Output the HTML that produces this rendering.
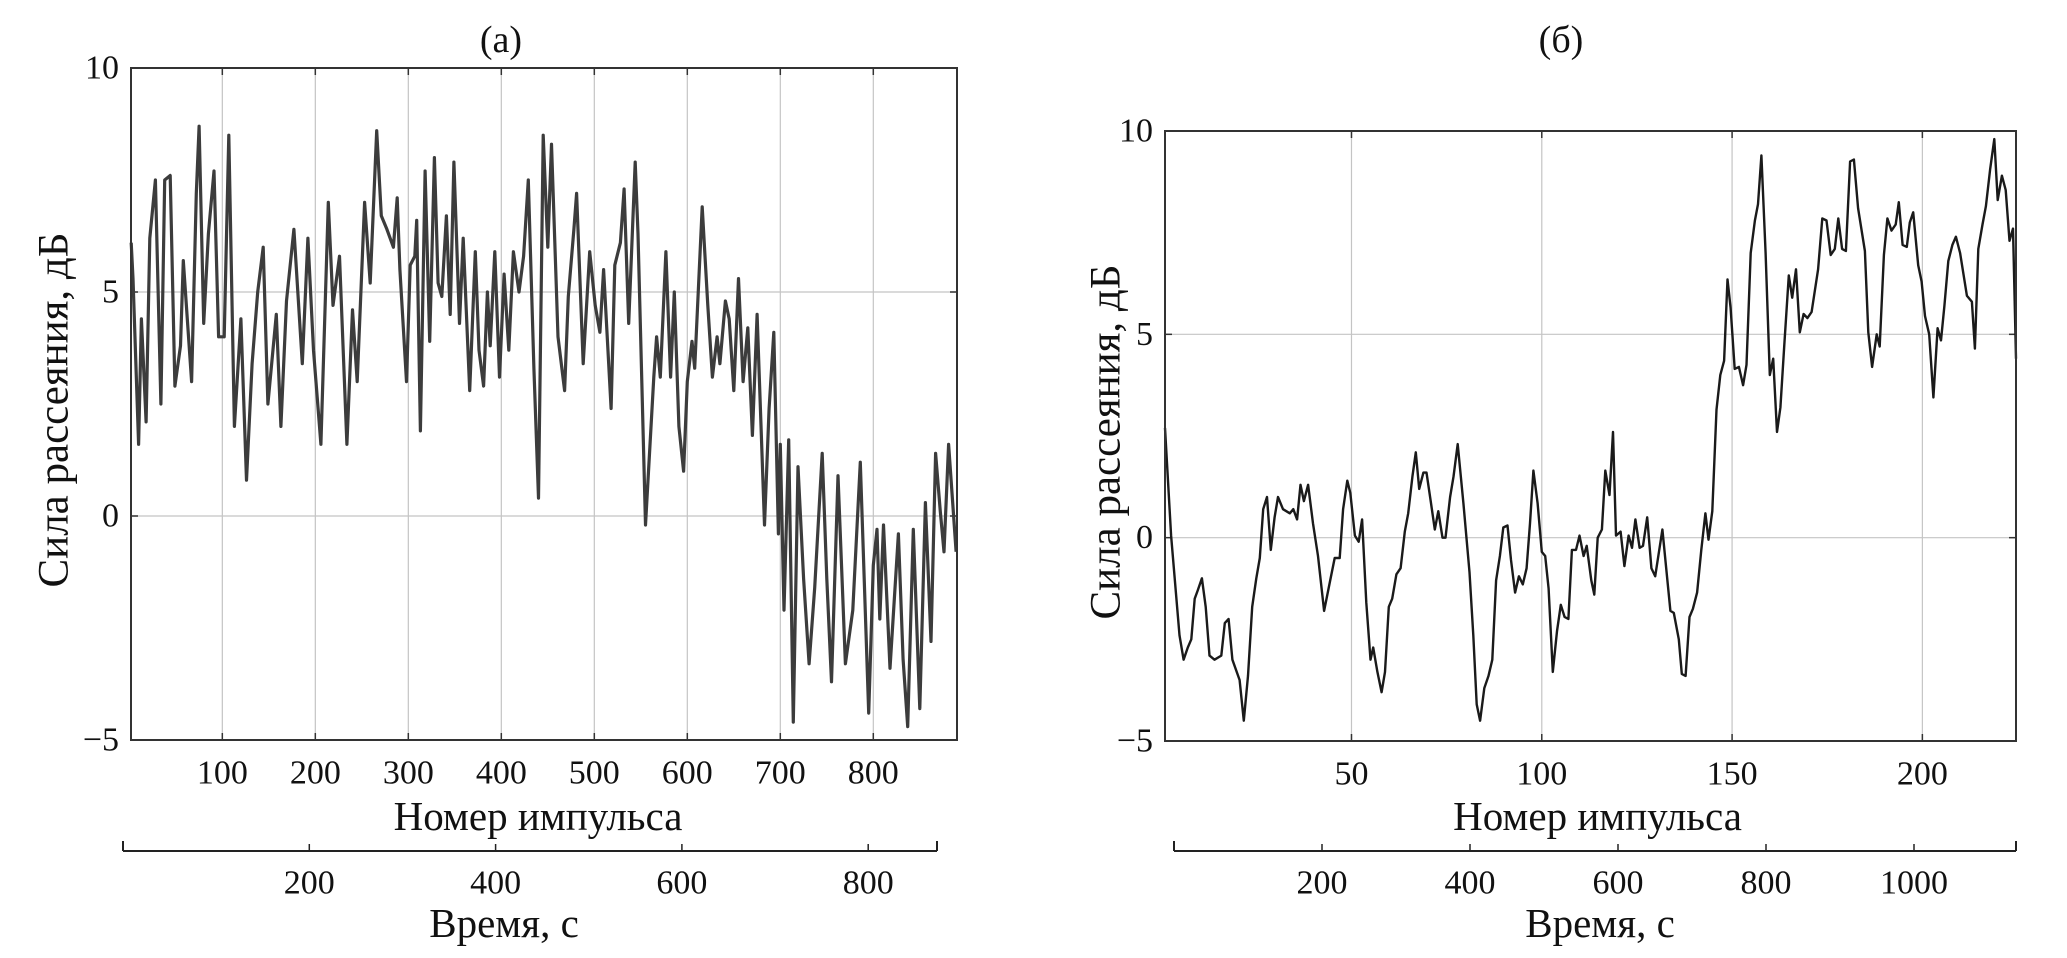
<!DOCTYPE html>
<html><head><meta charset="utf-8">
<style>
html,body{margin:0;padding:0;background:#fff;}
svg{display:block;}
text{font-family:"Liberation Serif",serif;fill:#111;}
</style></head>
<body>
<svg id="fig" width="2067" height="958" viewBox="0 0 2067 958"></svg>
<script>
// ---- Chart (a) data ----
const aPulse = [2,4,10,13,18,22,28,34,38,44,49,55,58,67,72,75,80,85,91,96,102,107,113,120,126,132,138,144,149,158,163,169,177,186,192,198,206,214,219,226,234,240,245,253,259,266,271,277,284,288,291,298,302,307,309,313,318,323,328,332,336,341,345,349,355,359,366,372,376,381,385,388,393,398,403,408,413,419,424,429,435,440,445,450,454,461,468,472,478,481,488,495,501,506,510,518,522,528,532,537,544,547,555,564,567,571,577,582,586,591,596,600,605,608,616,622,627,632,635,641,645,650,655,660,665,670,675,683,688,693,698,700,704,709,714,719,725,731,737,745,750,755,762,770,778,786,795,800,804,807,811,818,827,832,837,843,850,856,862,867,872,876,881,886,889];
const aValue = [6.1,5.3,1.6,4.4,2.1,6.2,7.5,2.5,7.5,7.6,2.9,3.8,5.7,3.0,7.2,8.7,4.3,6.3,7.7,4.0,4.0,8.5,2.0,4.4,0.8,3.4,5.0,6.0,2.5,4.5,2.0,4.8,6.4,3.4,6.2,3.7,1.6,7.0,4.7,5.8,1.6,4.6,3.0,7.0,5.2,8.6,6.7,6.4,6.0,7.1,5.5,3.0,5.6,5.8,6.6,1.9,7.7,3.9,8.0,5.2,4.9,6.7,4.5,7.9,4.3,6.2,2.8,5.9,3.7,2.9,5.0,3.8,5.9,3.1,5.4,3.7,5.9,5.0,5.8,7.5,3.3,0.4,8.5,6.0,8.3,4.0,2.8,4.9,6.4,7.2,3.4,5.9,4.7,4.1,5.5,2.4,5.6,6.1,7.3,4.3,7.9,6.3,-0.2,3.1,4.0,3.1,5.9,3.1,5.0,2.0,1.0,3.0,3.9,3.3,6.9,4.7,3.1,4.0,3.4,4.8,4.4,2.8,5.3,3.0,4.2,1.8,4.5,-0.2,2.4,4.1,-0.4,1.6,-2.1,1.7,-4.6,1.1,-1.4,-3.3,-1.6,1.4,-1.4,-3.7,0.9,-3.3,-2.1,1.2,-4.4,-1.1,-0.3,-2.3,-0.2,-3.4,-0.4,-3.2,-4.7,-0.3,-4.3,0.3,-2.8,1.4,0.1,-0.8,1.6,0.1,-0.8];
const aXTicks = [100,200,300,400,500,600,700,800];
const aYTicks = [-5,0,5,10];
const aTimeTicks = [200,400,600,800];

// ---- Chart (б) data ----
const bPulse = [1,2.6,4.8,5.9,7,7.9,8.8,9.6,10.7,11.7,12.7,14,15.8,16.7,17.7,18.7,20.6,21.7,22.8,23.9,25,25.9,26.8,27.8,28.8,29.8,30.7,32,33.8,34.7,35.7,36.6,37.5,38.6,39.9,41.2,42.8,44.3,45.6,46.9,47.8,48.9,49.7,50.9,51.9,52.8,53.9,55,55.7,56.8,57.9,58.8,59.8,60.7,61.8,62.9,64,64.9,66,66.9,67.8,68.9,69.7,70.8,71.9,72.8,73.9,74.7,75.9,76.8,77.9,79.4,81,82,82.9,83.8,84.9,86,87,88,89,89.9,91,91.9,93,94,95,96,96.9,97.8,98.9,100,100.9,101.8,102.9,104,105,106,107,107.9,109,109.9,111,111.8,113,113.8,114.7,115.8,116.7,117.8,118.7,119.5,120.7,121.7,122.8,123.7,124.6,125.7,126.6,127.7,128.8,129.8,131.7,132.7,133.8,134.7,136,136.8,137.8,138.8,139.7,140.8,141.9,143,143.8,144.8,145.9,146.9,147.9,148.8,149.6,150.7,151.8,152.9,153.8,154.9,156,156.8,157.7,158.8,159.9,160.8,161.8,162.7,163.7,164.9,165.8,166.8,167.8,168.8,169.8,170.9,172.6,173.7,174.8,175.9,177,177.9,178.9,179.9,181,182,183.1,184.9,185.8,186.8,188,188.8,189.9,190.8,191.9,193,193.8,194.8,195.9,196.7,197.6,198.9,199.8,200.7,201.8,202.9,204,204.9,205.8,206.8,207.9,208.8,209.9,211.7,213,213.8,214.7,215.8,216.7,217.8,218.9,219.8,220.9,221.9,222.9,223.8,224.6];
const bValue = [2.7,0.05,-2.4,-3.0,-2.7,-2.5,-1.5,-1.3,-1.0,-1.7,-2.9,-3.0,-2.9,-2.1,-2.0,-3.0,-3.5,-4.5,-3.4,-1.7,-1.0,-0.5,0.7,1.0,-0.3,0.5,1.0,0.7,0.6,0.7,0.45,1.3,0.9,1.3,0.35,-0.45,-1.8,-1.1,-0.5,-0.5,0.7,1.4,1.1,0.05,-0.1,0.45,-1.6,-3.0,-2.7,-3.3,-3.8,-3.3,-1.7,-1.5,-0.9,-0.75,0.15,0.6,1.5,2.1,1.2,1.6,1.6,0.9,0.2,0.65,0,0,1.0,1.5,2.3,0.85,-0.85,-2.4,-4.1,-4.5,-3.7,-3.4,-3.0,-1.05,-0.45,0.25,0.3,-0.55,-1.35,-0.95,-1.15,-0.75,0.35,1.65,0.85,-0.35,-0.45,-1.25,-3.3,-2.3,-1.65,-1.95,-2.0,-0.3,-0.3,0.05,-0.45,-0.2,-1.05,-1.4,0,0.2,1.65,1.05,2.6,0.05,0.15,-0.7,0.05,-0.25,0.45,-0.25,-0.2,0.5,-0.75,-0.95,0.2,-0.75,-1.8,-1.85,-2.5,-3.35,-3.4,-1.95,-1.75,-1.35,-0.3,0.6,-0.05,0.65,3.15,4.0,4.35,6.35,5.65,4.15,4.2,3.75,4.25,7.0,7.8,8.2,9.4,7.0,4.0,4.4,2.6,3.2,4.7,6.45,5.9,6.6,5.05,5.5,5.4,5.55,6.6,7.85,7.8,6.95,7.1,7.85,7.1,7.05,9.25,9.3,8.1,7.05,5.05,4.2,5.0,4.7,6.95,7.85,7.55,7.7,8.25,7.2,7.15,7.75,8.0,6.7,6.3,5.45,5.0,3.45,5.15,4.85,5.7,6.8,7.2,7.4,7.0,5.95,5.8,4.65,7.1,7.7,8.15,9.05,9.8,8.3,8.9,8.55,7.3,7.6,4.4];
const bXTicks = [50,100,150,200];
const bYTicks = [-5,0,5,10];
const bTimeTicks = [200,400,600,800,1000];

const NS = 'http://www.w3.org/2000/svg';
const svg = document.getElementById('fig');
function mk(tag, attrs, parent){
  const e = document.createElementNS(NS, tag);
  for (const k in attrs) e.setAttribute(k, attrs[k]);
  (parent||svg).appendChild(e);
  return e;
}
function txt(str, x, y, size, anchor, parent, rot){
  const t = mk('text', {x:x, y:y, 'font-size':size, 'text-anchor':anchor||'middle', 'dominant-baseline':'central'}, parent);
  if (rot) t.setAttribute('transform', 'rotate(-90 '+x+' '+y+')');
  t.textContent = str;
  return t;
}

function drawChart(cfg){
  const g = mk('g', {});
  
  
  const X = v => cfg.L + (v - cfg.xmin) / (cfg.xmax - cfg.xmin) * (cfg.R - cfg.L);
  const Y = v => cfg.B - (v - cfg.ymin) / (cfg.ymax - cfg.ymin) * (cfg.B - cfg.T);
  const T = v => cfg.tL + v * cfg.tScale;

  cfg.xTicks.forEach(v => {
    const l = mk('line', {x1:X(v), x2:X(v), y1:cfg.T, y2:cfg.B, stroke:'#c4c4c4', 'stroke-width':1.2}, g);
    
    
    mk('line', {x1:X(v), x2:X(v), y1:cfg.B, y2:cfg.B-7, stroke:'#333', 'stroke-width':1.5}, g);
    mk('line', {x1:X(v), x2:X(v), y1:cfg.T, y2:cfg.T+7, stroke:'#333', 'stroke-width':1.5}, g);
    const t = txt(String(v), X(v), cfg.B+33, 34, 'middle', g);
    
    
  });
  cfg.yTicks.forEach(v => {
    if (v > cfg.ymin && v < cfg.ymax) {
      const l = mk('line', {x1:cfg.L, x2:cfg.R, y1:Y(v), y2:Y(v), stroke:'#c4c4c4', 'stroke-width':1.2}, g);
      
      
    }
    mk('line', {x1:cfg.L, x2:cfg.L+7, y1:Y(v), y2:Y(v), stroke:'#333', 'stroke-width':1.5}, g);
    mk('line', {x1:cfg.R, x2:cfg.R-7, y1:Y(v), y2:Y(v), stroke:'#333', 'stroke-width':1.5}, g);
    const t = txt(v < 0 ? '\u2212' + Math.abs(v) : String(v), cfg.L-12, Y(v), 34, 'end', g);
    
    
  });

  let d = '';
  cfg.px.forEach((p, i) => { d += (i ? 'L' : 'M') + X(p).toFixed(1) + ' ' + Y(cfg.py[i]).toFixed(1); });
  const path = mk('path', {d:d, fill:'none', stroke:cfg.color, 'stroke-width':cfg.lw, 'stroke-linejoin':'round'}, g);
  
  

  const box = mk('rect', {x:cfg.L, y:cfg.T, width:cfg.R-cfg.L, height:cfg.B-cfg.T, fill:'none', stroke:'#333', 'stroke-width':2}, g);
  
  

  const tt = txt(cfg.title, cfg.titleX, 40, 38, 'middle', g);
  
  
  const xl = txt('Номер импульса', (cfg.L+cfg.R)/2 + cfg.xlOff, 816, 41, 'middle', g);
  
  
  const yl = txt('Сила рассеяния, дБ', cfg.ylX, (cfg.T+cfg.B)/2 + 6, 43, 'middle', g, true);
  
  

  const ta = mk('g', {}, g);
  
  
  const ay = 851;
  mk('line', {x1:cfg.tL, x2:cfg.tR, y1:ay, y2:ay, stroke:'#222', 'stroke-width':2}, ta);
  mk('line', {x1:cfg.tL, x2:cfg.tL, y1:ay, y2:ay-10, stroke:'#222', 'stroke-width':2}, ta);
  mk('line', {x1:cfg.tR, x2:cfg.tR, y1:ay, y2:ay-10, stroke:'#222', 'stroke-width':2}, ta);
  cfg.tTicks.forEach(v => {
    mk('line', {x1:T(v), x2:T(v), y1:ay, y2:ay-7, stroke:'#222', 'stroke-width':1.5}, ta);
    const t = txt(String(v), T(v), 883, 34, 'middle', ta);
    
    
  });
  const tl = txt('Время, с', cfg.tTitleX, 923, 41, 'middle', ta);
  
  
}

drawChart({name:'chart-a', title:'(a)', titleX:501, L:131, R:957, T:68, B:740, xmin:1.8, xmax:890,
  ymin:-5, ymax:10, xTicks:aXTicks, yTicks:aYTicks, px:aPulse, py:aValue, color:'#3c3c3c', lw:3.2,
  ylX:54, xlOff:-6, tL:123, tR:937, tScale:0.9315, tTicks:aTimeTicks, tTitleX:504});
drawChart({name:'chart-b', title:'(б)', titleX:1561, L:1165, R:2016, T:131, B:741, xmin:1, xmax:224.6,
  ymin:-5, ymax:10, xTicks:bXTicks, yTicks:bYTicks, px:bPulse, py:bValue, color:'#1a1a1a', lw:2.4,
  ylX:1106, xlOff:7, tL:1174, tR:2016, tScale:0.74, tTicks:bTimeTicks, tTitleX:1600});
</script>
</body></html>
